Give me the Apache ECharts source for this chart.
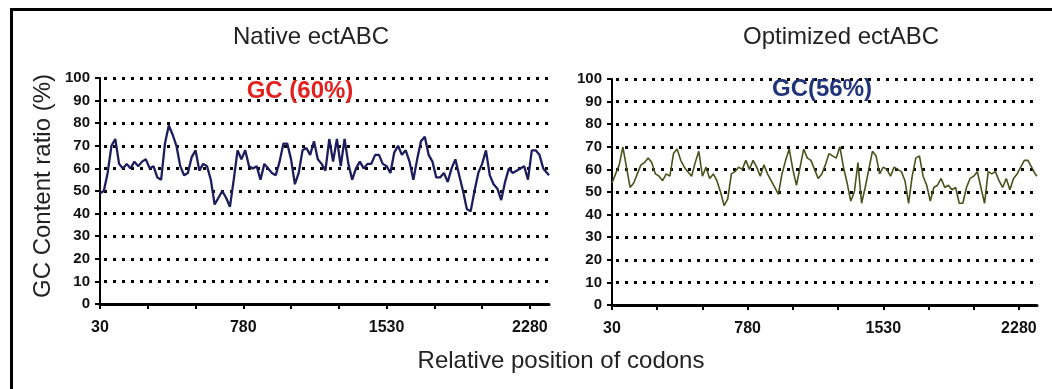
<!DOCTYPE html>
<html>
<head>
<meta charset="utf-8">
<title>GC content along ectABC</title>
<script src="https://cdn.jsdelivr.net/npm/echarts@6/dist/echarts.min.js"></script>
<style>
  html, body { margin: 0; padding: 0; background: #fff; }
  #chart { width: 1052px; height: 389px; }
</style>
</head>
<body>
<div id="chart"></div>
<script>
// Codon positions of the sliding-window GC measurements
const positions = [
  30, 50, 70, 90, 110, 130, 150, 170, 190, 210, 230, 250, 270, 290, 310, 330, 350, 370, 390, 410,
  430, 450, 470, 490, 510, 530, 550, 570, 590, 610, 630, 650, 670, 690, 710, 730, 750, 770, 790, 810,
  830, 850, 870, 890, 910, 930, 950, 970, 990, 1010, 1030, 1050, 1070, 1090, 1110, 1130, 1150, 1170, 1190, 1210,
  1230, 1250, 1270, 1290, 1310, 1330, 1350, 1370, 1390, 1410, 1430, 1450, 1470, 1490, 1510, 1530, 1550, 1570, 1590, 1610,
  1630, 1650, 1670, 1690, 1710, 1730, 1750, 1770, 1790, 1810, 1830, 1850, 1870, 1890, 1910, 1930, 1950, 1970, 1990, 2010,
  2030, 2050, 2070, 2090, 2110, 2130, 2150, 2170, 2190, 2210, 2230, 2250, 2270, 2290, 2310, 2330, 2350, 2370, 2380
];

// GC content (%) of the native ectABC sequence
const nativeGC = [
  49, 50, 58, 70, 73, 62, 60, 62, 60, 63, 61, 63, 64, 60, 61, 56, 55, 71, 79, 75,
  70, 61, 57, 58, 65, 68, 59, 62, 61, 55, 44, 47, 50, 47, 43, 55, 68, 64, 68, 61,
  60, 61, 55, 62, 60, 58, 57, 63, 71, 71, 64, 53, 58, 68, 69, 66, 72, 64, 62, 59,
  73, 63, 73, 61, 73, 62, 55, 60, 63, 60, 62, 62, 66, 66, 62, 61, 58, 67, 70, 66,
  68, 63, 55, 64, 72, 74, 66, 63, 56, 56, 58, 54, 60, 64, 57, 50, 42, 41, 50, 58,
  62, 68, 57, 53, 51, 46, 54, 60, 58, 59, 60, 61, 55, 68, 68, 66, 60, 58, 57
];

// GC content (%) of the codon-optimized ectABC sequence
const optimizedGC = [
  54, 58, 62, 70, 61, 52, 54, 58, 62, 63, 65, 63, 58, 57, 55, 58, 57, 67, 69, 64,
  61, 59, 57, 63, 68, 57, 61, 56, 58, 55, 50, 44, 47, 58, 59, 61, 60, 64, 60, 64,
  61, 57, 62, 58, 55, 52, 49, 58, 64, 69, 60, 53, 61, 69, 65, 64, 60, 56, 58, 62,
  67, 66, 65, 70, 61, 54, 46, 50, 63, 45, 52, 60, 68, 66, 58, 61, 60, 57, 61, 60,
  59, 55, 45, 57, 65, 66, 57, 53, 46, 52, 53, 56, 52, 53, 51, 52, 45, 45, 52, 56,
  57, 59, 52, 45, 59, 58, 59, 55, 52, 56, 51, 56, 58, 61, 64, 64, 61, 58, 57
];

const xTickValues = [30, 280, 530, 780, 1030, 1280, 1530, 1780, 2030, 2280];
const xLabelValues = [30, 780, 1530, 2280];
const panelTitles = ['Native ectABC', 'Optimized ectABC'];
const gcLabels = ['GC (60%)', 'GC(56%)'];
const yAxisTitle = 'GC Content ratio (%)';
const xAxisTitle = 'Relative position of codons';

const FONT = '"Liberation Sans", Arial, Helvetica, sans-serif';

function toPairs(values) {
  return positions.map((p, i) => [p, values[i]]);
}

function tickLabelStyle(size) {
  return {
    fontFamily: FONT,
    fontWeight: 'bold',
    fontSize: size,
    color: '#111',
    formatter: function (v) { return String(v); }
  };
}

function makeXAxis(gridIndex) {
  return {
    type: 'value',
    gridIndex: gridIndex,
    min: 30,
    max: 2380,
    axisLine: { show: true, onZero: false, lineStyle: { color: '#000', width: 3 } },
    axisTick: {
      show: true,
      customValues: xTickValues,
      length: 5,
      lineStyle: { color: '#000', width: 2 }
    },
    axisLabel: Object.assign({ customValues: xLabelValues, margin: 16 }, tickLabelStyle(16)),
    splitLine: { show: false }
  };
}

function makeYAxis(gridIndex) {
  return {
    type: 'value',
    gridIndex: gridIndex,
    min: 0,
    max: 100,
    interval: 10,
    axisLine: { show: true, onZero: false, lineStyle: { color: '#000', width: 2 } },
    axisTick: { show: true, length: 5, lineStyle: { color: '#000', width: 2 } },
    axisLabel: Object.assign({ margin: 10 }, tickLabelStyle(15)),
    splitLine: {
      show: true,
      lineStyle: { color: '#000', width: 3, type: [3, 6], dashOffset: -4 }
    }
  };
}

function textEl(x, y, text, opts) {
  return {
    type: 'text',
    x: x,
    y: y,
    rotation: opts.rotation || 0,
    z: 10,
    style: {
      text: text,
      fontFamily: FONT,
      fontSize: opts.size || 24,
      fontWeight: opts.weight || 'normal',
      fill: opts.color || '#222',
      align: 'center',
      verticalAlign: 'middle'
    }
  };
}

const chart = echarts.init(document.getElementById('chart'), null, { renderer: 'canvas' });

chart.setOption({
  animation: false,
  backgroundColor: '#fff',
  grid: [
    { left: 100, top: 78, width: 449, height: 226 },
    { left: 612, top: 79, width: 425, height: 226 }
  ],
  xAxis: [makeXAxis(0), makeXAxis(1)],
  yAxis: [makeYAxis(0), makeYAxis(1)],
  series: [
    {
      name: panelTitles[0],
      type: 'line',
      xAxisIndex: 0,
      yAxisIndex: 0,
      data: toPairs(nativeGC),
      showSymbol: false,
      lineStyle: { color: '#1d1d5e', width: 2.3 },
      z: 5
    },
    {
      name: panelTitles[1],
      type: 'line',
      xAxisIndex: 1,
      yAxisIndex: 1,
      data: toPairs(optimizedGC),
      showSymbol: false,
      lineStyle: { color: '#48521a', width: 1.6 },
      z: 5
    }
  ],
  graphic: [
    // outer frame (top and left edges)
    { type: 'line', shape: { x1: 10, y1: 9.5, x2: 1052, y2: 9.5 }, style: { stroke: '#000', lineWidth: 3 } },
    { type: 'line', shape: { x1: 11.5, y1: 8, x2: 11.5, y2: 389 }, style: { stroke: '#000', lineWidth: 3 } },
    textEl(311, 37, panelTitles[0], {}),
    textEl(841, 37, panelTitles[1], {}),
    textEl(300, 91, gcLabels[0], { weight: 'bold', color: '#e3201e' }),
    textEl(822, 89, gcLabels[1], { weight: 'bold', color: '#1f3479' }),
    textEl(43, 186, yAxisTitle, { rotation: Math.PI / 2 }),
    textEl(561, 361, xAxisTitle, {})
  ]
});
</script>
</body>
</html>
